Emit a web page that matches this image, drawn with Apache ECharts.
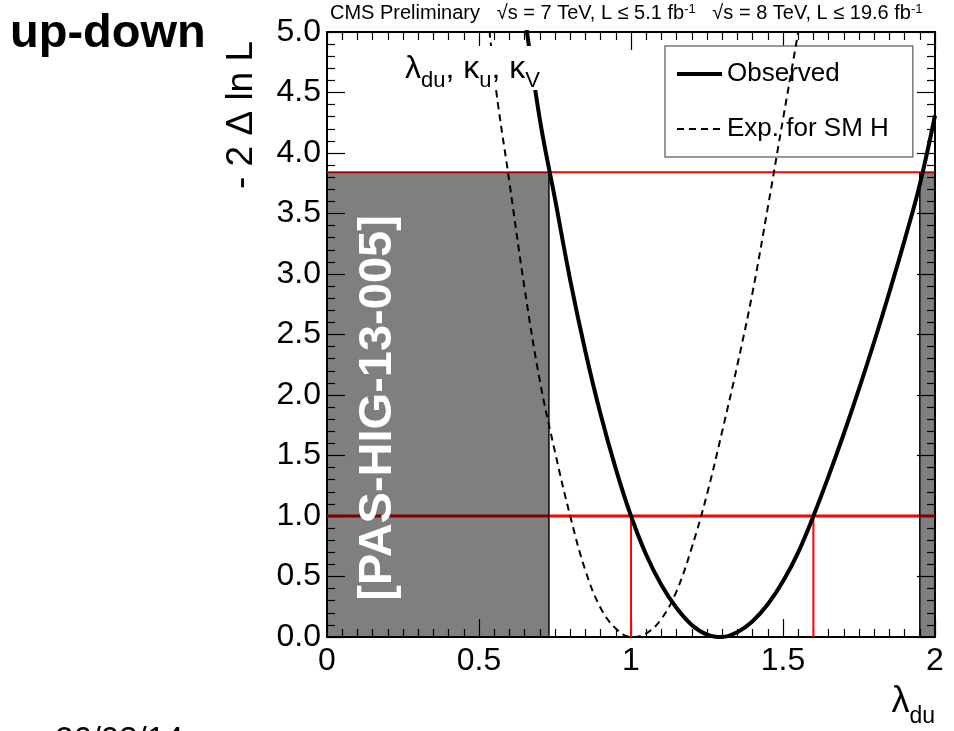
<!DOCTYPE html>
<html><head><meta charset="utf-8">
<script src="https://cdn.jsdelivr.net/npm/echarts@6/dist/echarts.min.js"></script>
<style>html,body{margin:0;padding:0;background:#fff}#c{width:954px;height:731px}</style>
</head><body><div id="c"></div>
<script>
// Observed -2 Δ ln L scan in λdu
const obsX = [0.65, 0.70, 0.75, 0.80, 0.85, 0.90, 0.95, 1.00, 1.05, 1.10, 1.15, 1.20, 1.25, 1.30, 1.35, 1.40, 1.45, 1.50, 1.55, 1.60, 1.65, 1.70, 1.75, 1.80, 1.85, 1.90, 1.95, 2.00];
const obsY = [5.15, 4.28, 3.62, 2.95, 2.36, 1.84, 1.39, 1.00, 0.68, 0.43, 0.24, 0.10, 0.02, 0.00, 0.04, 0.13, 0.27, 0.46, 0.70, 1.00, 1.33, 1.68, 2.05, 2.44, 2.85, 3.28, 3.74, 4.31];
// Expected for SM Higgs
const expX = [0.50, 0.55, 0.60, 0.65, 0.70, 0.75, 0.80, 0.85, 0.90, 0.95, 1.00, 1.05, 1.10, 1.15, 1.20, 1.25, 1.30, 1.35, 1.40, 1.45, 1.50, 1.55, 1.60];
const expY = [5.90, 4.65, 3.76, 2.88, 2.12, 1.53, 1.00, 0.55, 0.24, 0.07, 0.00, 0.03, 0.15, 0.38, 0.74, 1.18, 1.70, 2.25, 2.85, 3.55, 4.28, 5.00, 5.75];
// thresholds (68% and 95% CL) and observed crossings
const levels = [1.0, 3.84];
const cl68 = [1.0, 1.6];
const excluded = [[0, 0.73], [1.95, 2.0]];
const xRange = [0, 2];
const yRange = [0, 5];

const FF = 'Liberation Sans, Arial, sans-serif';
const chart = echarts.init(document.getElementById('c'));

// segments: [x1, y1, x2, y2, kind]
const segs = [];
levels.forEach((l, i) => segs.push([xRange[0], l, xRange[1], l, i === 0 ? 0 : 1]));
cl68.forEach(x => segs.push([x, 0, x, levels[0], 1]));
excluded.forEach(r => {
  if (r[0] > xRange[0]) segs.push([r[0], 0, r[0], levels[1], 2]);
  if (r[1] < xRange[1]) segs.push([r[1], 0, r[1], levels[1], 2]);
});
const segStyles = [
  {stroke: '#ff0000', lineWidth: 3},
  {stroke: '#ff0000', lineWidth: 2},
  {stroke: '#200000', lineWidth: 1.5}
];

const axisCommon = {
  type: 'value', splitLine: {show: false},
  axisLine: {show: true, onZero: false, lineStyle: {color: '#000', width: 2}},
  axisTick: {show: true, inside: true, length: 18, lineStyle: {color: '#000', width: 1.2}},
  minorTick: {show: true, length: 8, lineStyle: {color: '#000', width: 1.2}}
};

chart.setOption({
  backgroundColor: '#fff',
  animation: false,
  title: {text: 'up-down', left: 10, top: 11, padding: 0, textStyle: {fontSize: 47, fontWeight: 'bold', fontFamily: FF, color: '#000'}},
  grid: {left: 327, right: 19, top: 32, bottom: 94},
  legend: {
    data: ['Observed', 'Exp. for SM H'], orient: 'vertical', left: 665, top: 46,
    padding: [13, 24, 13, 10], itemGap: 25, itemWidth: 45, itemHeight: 14,
    backgroundColor: '#fff', borderColor: '#777', borderWidth: 1.5, selectedMode: false,
    itemStyle: {opacity: 0},
    lineStyle: {width: 'inherit'},
    textStyle: {fontSize: 26, fontFamily: FF, color: '#000', lineHeight: 30}
  },
  xAxis: [
    Object.assign({}, axisCommon, {position: 'bottom', min: xRange[0], max: xRange[1], interval: 0.5,
      minorTick: Object.assign({}, axisCommon.minorTick, {splitNumber: 10}),
      axisLabel: {show: true, margin: 8, fontSize: 32, fontFamily: FF, color: '#000'}}),
    Object.assign({}, axisCommon, {position: 'top', min: xRange[0], max: xRange[1], interval: 0.5,
      minorTick: Object.assign({}, axisCommon.minorTick, {splitNumber: 10}),
      axisLabel: {show: false}})
  ],
  yAxis: [
    Object.assign({}, axisCommon, {position: 'left', min: yRange[0], max: yRange[1], interval: 0.5,
      minorTick: Object.assign({}, axisCommon.minorTick, {splitNumber: 5}),
      axisLabel: {show: true, margin: 6, fontSize: 32, fontFamily: FF, color: '#000', formatter: v => v.toFixed(1)}}),
    Object.assign({}, axisCommon, {position: 'right', min: yRange[0], max: yRange[1], interval: 0.5,
      minorTick: Object.assign({}, axisCommon.minorTick, {splitNumber: 5}),
      axisLabel: {show: false}})
  ],
  series: [
    {
      type: 'custom', name: 'levels', z: 2, silent: true,
      data: segs,
      renderItem: (params, api) => {
        const p0 = api.coord([api.value(0), api.value(1)]);
        const p1 = api.coord([api.value(2), api.value(3)]);
        return {type: 'line', shape: {x1: p0[0], y1: p0[1], x2: p1[0], y2: p1[1]}, style: segStyles[api.value(4)]};
      }
    },
    {
      type: 'custom', name: 'excl', z: 3, silent: true,
      data: excluded.map(r => [r[0], r[1], levels[1]]),
      renderItem: (params, api) => {
        const p0 = api.coord([api.value(0), 0]);
        const p1 = api.coord([api.value(1), api.value(2)]);
        return {type: 'rect', shape: {x: p0[0], y: p1[1], width: p1[0] - p0[0], height: p0[1] - p1[1]}, style: {fill: 'rgba(0,0,0,0.5)'}};
      }
    },
    {
      type: 'line', name: 'Exp. for SM H', z: 4, smooth: 0.4, symbol: 'none', showSymbol: false,
      data: expX.map((x, i) => [x, expY[i]]),
      lineStyle: {color: '#000', width: 2, type: [7, 5]}, itemStyle: {color: '#000'}
    },
    {
      type: 'line', name: 'Observed', z: 5, smooth: 0.4, symbol: 'none', showSymbol: false,
      data: obsX.map((x, i) => [x, obsY[i]]),
      lineStyle: {color: '#000', width: 4}, itemStyle: {color: '#000'}
    }
  ],
  graphic: [
    {type: 'text', z: 100, x: 242, y: 115, rotation: Math.PI / 2,
      style: {text: '- 2 Δ ln L', fontSize: 37, fontFamily: FF, fill: '#000', align: 'center', verticalAlign: 'middle'}},
    {type: 'text', z: 100, x: 935, y: 682,
      style: {text: '{a|λ}{b|du}', align: 'right', verticalAlign: 'top', fontFamily: FF, fill: '#000',
        rich: {a: {fontSize: 36, fontFamily: FF, lineHeight: 38, verticalAlign: 'bottom'}, b: {fontSize: 23, fontFamily: FF, lineHeight: 23, verticalAlign: 'bottom', padding: [0, 0, -8, 0]}}}},
    {type: 'text', z: 100, x: 330, y: 3,
      style: {text: 'CMS Preliminary   √s = 7 TeV, L ≤ 5.1 fb{s|-1}   √s = 8 TeV, L ≤ 19.6 fb{s|-1}', fontSize: 20, fontFamily: FF, fill: '#000', verticalAlign: 'top',
        rich: {s: {fontSize: 13, fontFamily: FF, verticalAlign: 'top', padding: [0, 0, 8, 0]}}}},
    {type: 'rect', z: 90, shape: {x: 398, y: 46, width: 154, height: 44}, style: {fill: '#fff'}},
    {type: 'text', z: 100, x: 405, y: 49,
      style: {text: '{a|λ}{b|du}{a|, κ}{b|u}{a|, κ}{b|V}', verticalAlign: 'top', fontFamily: FF, fill: '#000',
        rich: {a: {fontSize: 32, fontFamily: FF, lineHeight: 36, verticalAlign: 'bottom'}, b: {fontSize: 22, fontFamily: FF, lineHeight: 22, verticalAlign: 'bottom', padding: [0, 0, -7, 0]}}}},
    {type: 'text', z: 100, x: 378, y: 408, rotation: Math.PI / 2,
      style: {text: '[PAS-HIG-13-005]', fontSize: 47, fontWeight: 'bold', fontFamily: FF, fill: '#fff', align: 'center', verticalAlign: 'middle'}},
    {type: 'text', z: 100, x: 55, y: 724,
      style: {text: '26/03/14', fontSize: 33, fontFamily: FF, fill: '#000', verticalAlign: 'top'}}
  ]
});
</script></body></html>
